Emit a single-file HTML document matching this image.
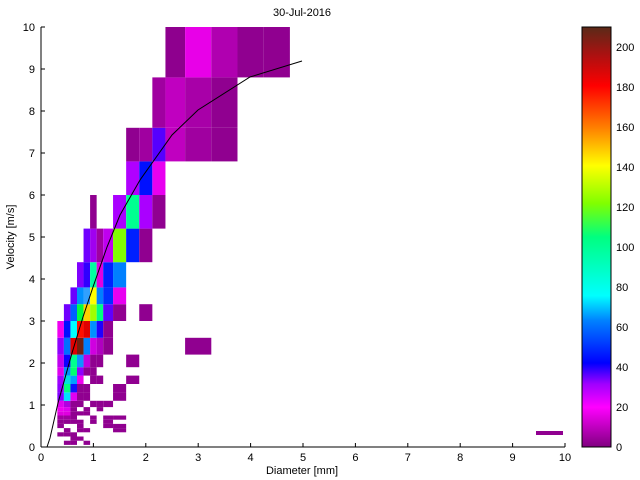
<!DOCTYPE html>
<html><head><meta charset="utf-8"><style>
body{margin:0;background:#fff;}
svg{display:block;font-family:"Liberation Sans",sans-serif;}
</style></head><body>
<svg id="s" width="640" height="480" xmlns="http://www.w3.org/2000/svg">
<defs>
<linearGradient id="cb" x1="0" y1="1" x2="0" y2="0">
<stop offset="0" stop-color="#800080"/>
<stop offset="0.095" stop-color="#ff00ff"/>
<stop offset="0.15" stop-color="#a000ff"/>
<stop offset="0.2" stop-color="#0000ff"/>
<stop offset="0.3" stop-color="#0080ff"/>
<stop offset="0.36" stop-color="#00ffff"/>
<stop offset="0.5" stop-color="#00ff80"/>
<stop offset="0.58" stop-color="#80ff00"/>
<stop offset="0.67" stop-color="#ffff00"/>
<stop offset="0.76" stop-color="#ff8000"/>
<stop offset="0.86" stop-color="#ff0000"/>
<stop offset="0.93" stop-color="#b01010"/>
<stop offset="1" stop-color="#5a2a18"/>
</linearGradient>
</defs>
<g id="cells"></g>
<polyline fill="none" stroke="#000" stroke-width="1" points="47,447 50,438 58,403 72,353 83,317 93,287 107,247 120,215 140,180 172,135 198,110 250,77 302,61"/>
<line x1="41" y1="27" x2="41" y2="447" stroke="#000"/>
<line x1="41" y1="447" x2="565" y2="447" stroke="#000"/>
<g id="ticks" stroke="#000"></g>
<g id="labels" font-size="11" fill="#000"></g>
<text x="302" y="16" font-size="11" text-anchor="middle">30-Jul-2016</text>
<text x="302" y="474" font-size="11" text-anchor="middle">Diameter [mm]</text>
<text transform="translate(14,237) rotate(-90)" font-size="11" text-anchor="middle">Velocity [m/s]</text>
<rect x="582" y="27" width="29" height="420" fill="url(#cb)" stroke="#000"/>
</svg>
<script>
var NS="http://www.w3.org/2000/svg";
var D=[0.062,0.187,0.312,0.437,0.562,0.687,0.812,0.937,1.062,1.187,1.375,1.625,1.875,2.125,2.375,2.75,3.25,3.75,4.25,4.75];
var V=[0.05,0.15,0.25,0.35,0.45,0.55,0.65,0.75,0.85,0.95,1.1,1.3,1.5,1.7,1.9,2.2,2.6,3.0,3.4,3.8,4.4,5.2,6.0,6.8,7.6,8.8,10.0];
var X=function(d){return 41+52.4*d;}, Y=function(v){return 447-42*v;};
var M="#900090";
var data={
25:{14:"#8e008e",15:"#e800e8",16:"#b000b0",17:M,18:M},
24:{13:"#a000a0",14:"#c000c0",15:"#a800a8",16:M},
23:{11:M,12:"#a000a0",13:"#5500ff",14:"#c000c0",15:"#a000a0",16:M},
22:{11:"#b000ff",12:"#0010ff",13:"#e800f0"},
21:{7:M,10:"#aa00ff",11:"#00ff90",12:"#aa00ff",13:M},
20:{6:"#7000ff",7:"#a000f0",8:"#a000a0",9:"#c000f0",10:"#80ff00",11:"#0020ff",12:M},
19:{5:"#8000ff",6:"#3000ff",7:"#00ffa0",8:"#e000e0",9:"#0020ff",10:"#0080ff"},
18:{4:"#6a00ff",5:"#0090ff",6:"#30a0ff",7:"#ffff00",8:"#0080ff",9:"#0030ff",10:"#e800f0"},
17:{3:"#7000ff",4:"#0060ff",5:"#00ff40",6:"#ffd000",7:"#a0ff00",8:"#00ff80",9:"#6000ff",10:M,12:M},
16:{2:"#f000f0",3:"#0010ff",4:"#00ffff",5:"#ff1000",6:"#e00000",7:"#0090ff",8:"#2000ff",9:M},
15:{2:"#9000ff",3:"#0070ff",4:"#e00000",5:"#702010",6:"#0080ff",7:"#d000e0",8:"#b000c0",9:M,15:M},
14:{2:"#c000f0",3:"#1000ff",4:"#00ff90",5:"#1090ff",6:"#c000e0",7:M,8:M,11:M},
13:{2:"#e000f0",3:"#0090ff",4:"#00ff70",5:"#9000ff",6:M,7:M},
12:{2:"#a000ff",3:"#00e0e0",4:"#00a0ff",5:"#f000f0",7:M,8:M,11:M},
11:{2:"#9000ff",3:"#00ff80",4:"#1010ff",5:M,6:M,10:M},
10:{2:"#8000ff",3:"#00e0ff",4:"#e000f0",5:M,6:M,10:M},
9:{2:"#e000f0",3:"#b000e0",4:M,5:M,7:M,8:M,9:M},
8:{2:"#f000f0",3:"#e000f0",4:M,6:M,8:M},
7:{2:"#e000e0",3:"#e000e0",4:M,5:M,6:M},
6:{2:"#a000a0",3:"#a000a0",4:M,7:M,9:M,10:M},
5:{2:M,3:M,4:M,5:M,7:M,9:M},
4:{2:M,5:M,9:M,10:M},
3:{3:M,5:M,6:M,10:M},
2:{2:M,3:M,4:M},
1:{4:M,5:M},
0:{3:M,4:M,6:M}
};
var g=document.getElementById("cells");
function rect(x,y,w,h,c){var r=document.createElementNS(NS,"rect");r.setAttribute("x",x);r.setAttribute("y",y);r.setAttribute("width",w);r.setAttribute("height",h);r.setAttribute("fill",c);g.appendChild(r);}
for(var j in data){for(var c in data[j]){j=+j;c=+c;
var x0=X(D[c]),x1=X(D[c+1]),y0=Y(V[j+1]),y1=Y(V[j]);
rect(x0,y0,x1-x0,y1-y0,data[j][c]);}}
rect(536,431,27,4,M);
var t=document.getElementById("ticks"),l=document.getElementById("labels");
function ln(a,b,c,d){var e=document.createElementNS(NS,"line");e.setAttribute("x1",a);e.setAttribute("y1",b);e.setAttribute("x2",c);e.setAttribute("y2",d);t.appendChild(e);}
function tx(x,y,s,a){var e=document.createElementNS(NS,"text");e.setAttribute("x",x);e.setAttribute("y",y);e.setAttribute("text-anchor",a);e.textContent=s;l.appendChild(e);}
for(var i=0;i<=10;i++){var x=X(i);ln(x,447,x,443);tx(x,461,i,"middle");var y=Y(i);ln(41,y,45,y);tx(35,y+4,i,"end");}
for(var k=0;k<=200;k+=20){var y=447-k*2;ln(582,y,586,y);ln(607,y,611,y);tx(616,y+4,k,"start");}
</script>
</body></html>
